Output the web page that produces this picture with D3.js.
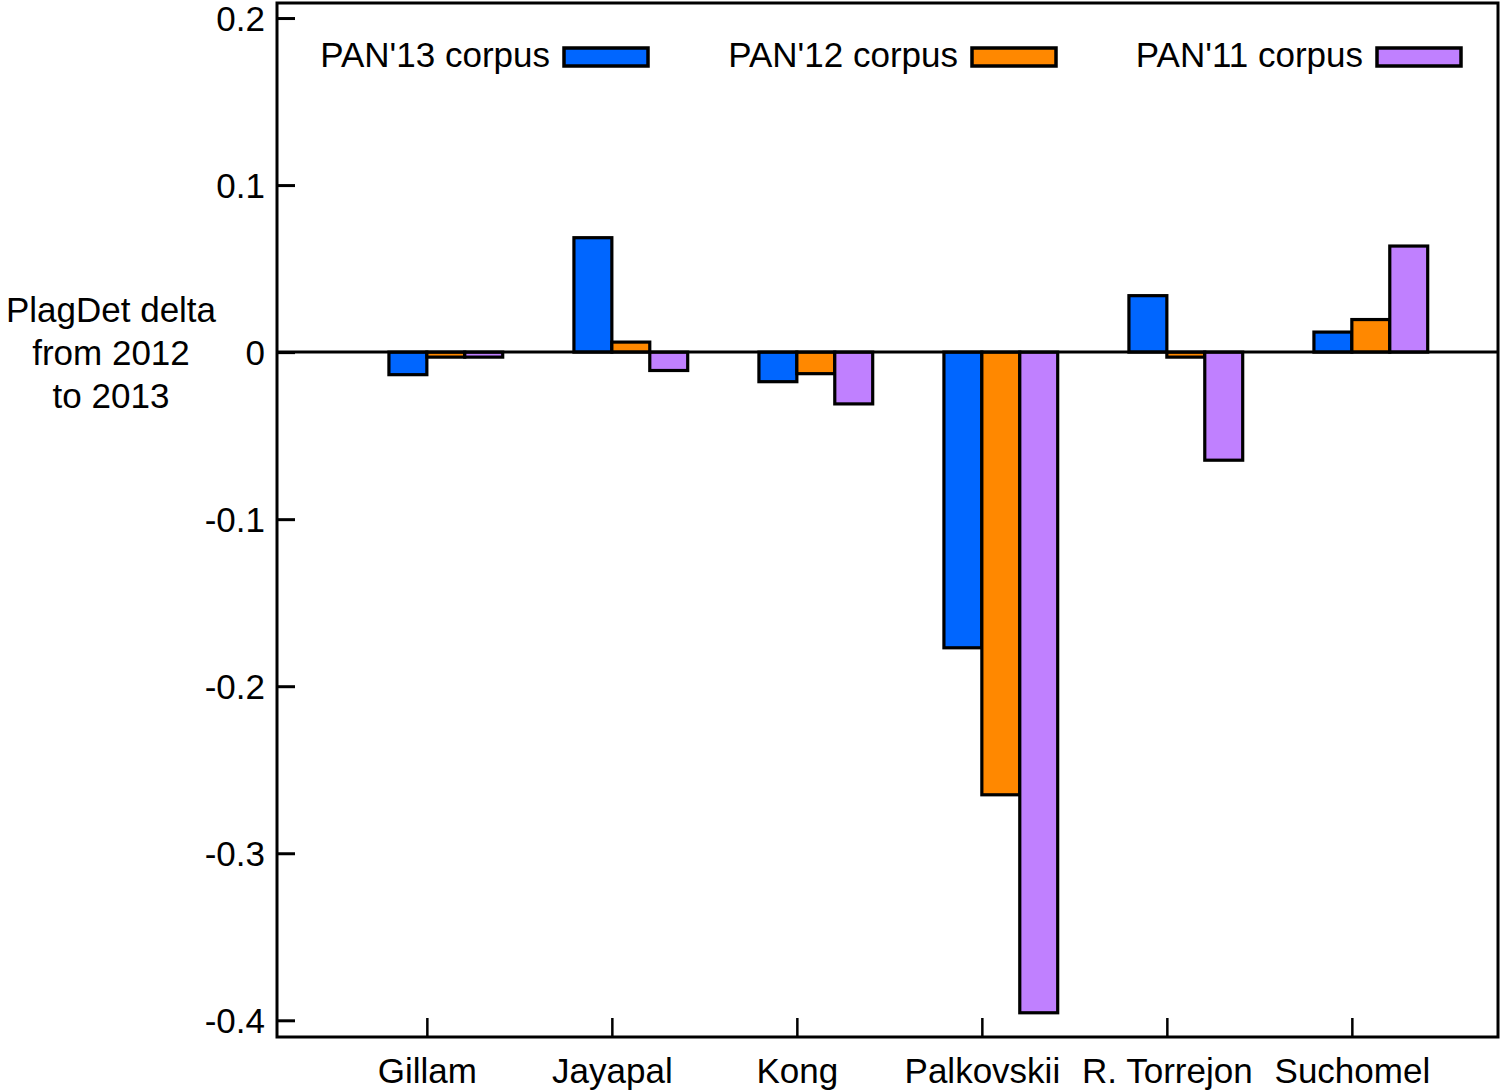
<!DOCTYPE html>
<html>
<head>
<meta charset="utf-8">
<title>PlagDet delta</title>
<script src="https://d3js.org/d3.v7.min.js"></script>
<style>
  body { margin: 0; background: #fff; }
  text { font-family: "Liberation Sans", Arial, sans-serif; font-size: 35px; fill: #000; }
</style>
</head>
<body>
<svg id="chart"></svg>
<script>
// data
var categories = ["Gillam", "Jayapal", "Kong", "Palkovskii", "R. Torrejon", "Suchomel"];
var seriesNames = ["PAN'13 corpus", "PAN'12 corpus", "PAN'11 corpus"];
var pan13 = [-0.0135, 0.0685, -0.0177, -0.177, 0.0338, 0.012];
var pan12 = [-0.003, 0.006, -0.0129, -0.265, -0.003, 0.0195];
var pan11 = [-0.003, -0.011, -0.031, -0.3955, -0.0647, 0.0635];
var yTicks = [0.2, 0.1, 0, -0.1, -0.2, -0.3, -0.4];
var colors = ["#0066ff", "#ff8800", "#c080ff"];

var width = 1501, height = 1090;
var plotL = 277, plotR = 1498, plotT = 3, plotB = 1037;
var fontCss = "Liberation Sans, Arial, sans-serif";

var svg = d3.select("#chart").attr("width", width).attr("height", height);

var x = d3.scaleLinear().domain([-0.81, 5.79]).range([plotL, plotR]);
var y = d3.scaleLinear().domain([-0.41, 0.209]).range([plotB, plotT]);
var barW = 0.205;

var series = [pan13, pan12, pan11];

// bars: blue left of the tick, orange right of it, purple next
series.forEach(function (vals, s) {
  svg.append("g").selectAll("rect")
    .data(vals)
    .enter()
    .append("rect")
    .attr("x", function (d, i) { return x(i + (s - 1) * barW); })
    .attr("width", x(barW) - x(0))
    .attr("y", function (d) { return y(Math.max(0, d)); })
    .attr("height", function (d) { return Math.abs(y(d) - y(0)); })
    .attr("fill", colors[s])
    .attr("stroke", "#000")
    .attr("stroke-width", 3.2);
});

// zero line
svg.append("line")
  .attr("x1", plotL).attr("x2", plotR)
  .attr("y1", y(0)).attr("y2", y(0))
  .attr("stroke", "#000").attr("stroke-width", 3);

// y axis: ticks point inward, plain hyphen for negatives
var yAxis = d3.axisLeft(y).tickValues(yTicks).tickSize(-18).tickPadding(0)
  .tickFormat(function (d) { return d === 0 ? "0" : d.toFixed(1); });
var gy = svg.append("g").attr("transform", "translate(" + plotL + ",0)").call(yAxis);
gy.select(".domain").remove();
gy.selectAll(".tick line").attr("stroke", "#000").attr("stroke-width", 3);
gy.selectAll(".tick text").attr("x", -12).attr("dy", "0.35em")
  .style("font-size", "35px").style("font-family", fontCss);

// x axis: ticks point up from the bottom frame
var xAxis = d3.axisBottom(x).tickValues(d3.range(categories.length)).tickSize(-19)
  .tickFormat(function (d) { return categories[d]; });
var gx = svg.append("g").attr("transform", "translate(0," + plotB + ")").call(xAxis);
gx.select(".domain").remove();
gx.selectAll(".tick line").attr("stroke", "#000").attr("stroke-width", 2.5);
gx.selectAll(".tick text").attr("y", 46).attr("dy", 0)
  .style("font-size", "35px").style("font-family", fontCss);

// frame
svg.append("rect")
  .attr("x", plotL).attr("y", plotT)
  .attr("width", plotR - plotL).attr("height", plotB - plotT)
  .attr("fill", "none").attr("stroke", "#000").attr("stroke-width", 3);

// y label
var ylab = svg.append("text").attr("text-anchor", "middle");
["PlagDet delta", "from 2012", "to 2013"].forEach(function (t, i) {
  ylab.append("tspan").attr("x", 111).attr("y", 322 + i * 43).text(t);
});

// legend
var legendX = [550, 958, 1363];
var legend = svg.append("g");
seriesNames.forEach(function (name, s) {
  legend.append("text")
    .attr("x", legendX[s]).attr("y", 67)
    .attr("text-anchor", "end")
    .text(name);
  legend.append("rect")
    .attr("x", legendX[s] + 14).attr("y", 48)
    .attr("width", 84).attr("height", 18)
    .attr("fill", colors[s])
    .attr("stroke", "#000").attr("stroke-width", 3.5);
});
</script>
</body>
</html>
